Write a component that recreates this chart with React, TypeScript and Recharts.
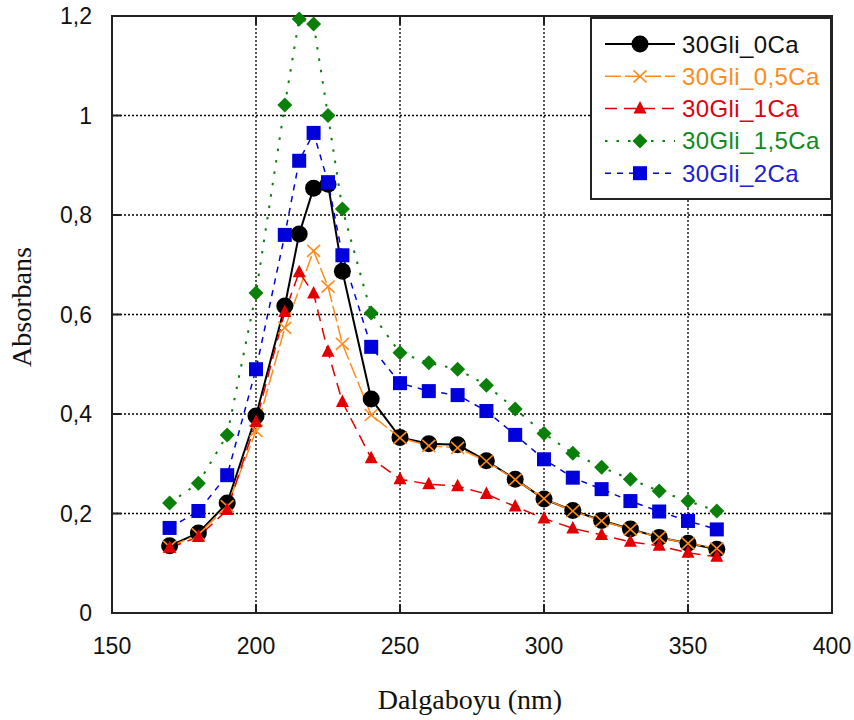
import React from 'react';
import { LineChart, Line, XAxis, YAxis, CartesianGrid, ReferenceArea } from 'recharts';

const wavelengths = [170, 180, 190, 200, 210, 215, 220, 225, 230, 240, 250, 260, 270, 280, 290, 300, 310, 320, 330, 340, 350, 360];
const gli0Ca = [0.135, 0.161, 0.221, 0.396, 0.617, 0.762, 0.854, 0.862, 0.687, 0.43, 0.353, 0.34, 0.338, 0.306, 0.269, 0.229, 0.206, 0.186, 0.169, 0.152, 0.14, 0.128];
const gli05Ca = [0.133, 0.158, 0.215, 0.366, 0.573, null, 0.728, 0.656, 0.541, 0.398, 0.352, 0.336, 0.332, 0.305, 0.268, 0.23, 0.205, 0.185, 0.168, 0.152, 0.14, 0.13];
const gli1Ca = [0.131, 0.153, 0.207, 0.384, 0.605, 0.685, 0.642, 0.525, 0.424, 0.311, 0.269, 0.259, 0.255, 0.239, 0.214, 0.19, 0.17, 0.157, 0.143, 0.135, 0.121, 0.113];
const gli15Ca = [0.221, 0.261, 0.358, 0.643, 1.021, 1.194, 1.184, 1.0, 0.812, 0.603, 0.523, 0.503, 0.49, 0.458, 0.41, 0.361, 0.321, 0.293, 0.269, 0.245, 0.225, 0.205];
const gli2Ca = [0.171, 0.205, 0.277, 0.49, 0.76, 0.909, 0.965, 0.866, 0.719, 0.535, 0.462, 0.446, 0.438, 0.406, 0.358, 0.309, 0.272, 0.249, 0.225, 0.204, 0.185, 0.168];

const seriesNames = ['30Gli_0Ca', '30Gli_0,5Ca', '30Gli_1Ca', '30Gli_1,5Ca', '30Gli_2Ca'];
const xTicks = [150, 200, 250, 300, 350, 400];
const yTicks = [0, 0.2, 0.4, 0.6, 0.8, 1, 1.2];
const xTitle = 'Dalgaboyu (nm)';
const yTitle = 'Absorbans';

const seriesValues = [gli0Ca, gli05Ca, gli1Ca, gli15Ca, gli2Ca];
const data = wavelengths.map((w, i) => {
  const row: any = { w };
  seriesValues.forEach((arr, k) => {
    row['s' + k] = arr[i];
  });
  return row;
});

const styles = [
  { color: '#000000', text: '#111111', dash: undefined, width: 2, marker: 'circle' },
  { color: '#FF8C1A', text: '#FF8C1A', dash: '16 4', width: 1.5, marker: 'x' },
  { color: '#E00000', text: '#E00010', dash: '12 7', width: 1.5, marker: 'triangle' },
  { color: '#0A800A', text: '#108A20', dash: '2.5 9', width: 2, marker: 'diamond' },
  { color: '#0000DD', text: '#2020D0', dash: '6 6', width: 1.5, marker: 'square' },
];

const SANS = '"Liberation Sans", Arial, sans-serif';
const SERIF = '"Liberation Serif", "Times New Roman", serif';

const PLOT_LEFT = 112;
const PLOT_RIGHT = 832;
const PLOT_TOP = 16;
const PLOT_BOTTOM = 613;
const TICK_LEN = 9;

function Marker({ type, cx, cy, color }: { type: string; cx: number; cy: number; color: string }) {
  if (cx == null || cy == null || isNaN(cx) || isNaN(cy)) return <g />;
  switch (type) {
    case 'circle':
      return <circle cx={cx} cy={cy} r={8.5} fill={color} stroke="none" />;
    case 'x':
      return (
        <g stroke={color} strokeWidth={1.6} fill="none">
          <line x1={cx - 6.5} y1={cy - 6} x2={cx + 6.5} y2={cy + 6} />
          <line x1={cx - 6.5} y1={cy + 6} x2={cx + 6.5} y2={cy - 6} />
        </g>
      );
    case 'triangle':
      return <polygon points={`${cx},${cy - 7.5} ${cx + 6.5},${cy + 5} ${cx - 6.5},${cy + 5}`} fill={color} stroke="none" />;
    case 'diamond':
      return <polygon points={`${cx},${cy - 7.5} ${cx + 7.5},${cy} ${cx},${cy + 7.5} ${cx - 7.5},${cy}`} fill={color} stroke="none" />;
    case 'square':
    default:
      return <rect x={cx - 7} y={cy - 7} width={14} height={14} fill={color} stroke="none" />;
  }
}

const fmtY = (v: number) => String(Math.round(v * 10) / 10).replace('.', ',');

const XTick = (props: any) => {
  const { x, y, payload } = props;
  return (
    <g>
      <line x1={x} x2={x} y1={PLOT_BOTTOM} y2={PLOT_BOTTOM - TICK_LEN} stroke="#222" strokeWidth={2} />
      <line x1={x} x2={x} y1={PLOT_TOP} y2={PLOT_TOP + TICK_LEN} stroke="#222" strokeWidth={2} />
      <text x={x} y={y + 17} textAnchor="middle" fontFamily={SANS} fontSize={23} fill="#111">
        {payload.value}
      </text>
    </g>
  );
};

const YTick = (props: any) => {
  const { x, y, payload } = props;
  return (
    <g>
      <line x1={PLOT_LEFT} x2={PLOT_LEFT + TICK_LEN} y1={y} y2={y} stroke="#222" strokeWidth={2} />
      <line x1={PLOT_RIGHT - TICK_LEN} x2={PLOT_RIGHT} y1={y} y2={y} stroke="#222" strokeWidth={2} />
      <text x={x} y={y + 8} textAnchor="end" fontFamily={SANS} fontSize={23} fill="#111">
        {fmtY(payload.value)}
      </text>
    </g>
  );
};

function LegendBox() {
  return (
    <div style={{ position: 'absolute', left: 590, top: 17, width: 242, height: 183 }}>
      <svg width={242} height={183}>
        <rect x={1} y={1} width={240} height={181} fill="#fff" stroke="#222" strokeWidth={2} />
        {seriesNames.map((name, i) => {
          const s = styles[i];
          const cy = 27 + i * 32.3;
          return (
            <g key={name}>
              <line x1={15} x2={85} y1={cy} y2={cy} stroke={s.color} strokeWidth={s.width} strokeDasharray={s.dash} />
              <Marker type={s.marker} cx={50} cy={cy} color={s.color} />
              <text x={92} y={cy + 8.5} fontFamily={SANS} fontSize={24} letterSpacing={0.4} fill={s.text}>
                {name}
              </text>
            </g>
          );
        })}
      </svg>
    </div>
  );
}

export default function App() {
  return (
    <div style={{ position: 'absolute', left: 0, top: 0, width: 854, height: 720, background: '#fff' }}>
      <LineChart width={854} height={720} data={data} margin={{ top: PLOT_TOP, right: 854 - PLOT_RIGHT, left: 0, bottom: 0 }}>
        <CartesianGrid stroke="#000" strokeWidth={1.3} strokeDasharray="2 2" />
        <XAxis
          dataKey="w"
          type="number"
          domain={[150, 400]}
          ticks={xTicks}
          height={720 - PLOT_BOTTOM}
          tickSize={0}
          tickMargin={24}
          tickLine={false}
          axisLine={{ stroke: '#222', strokeWidth: 2 }}
          tick={XTick}
          interval={0}
          label={() => (
            <text x={(PLOT_LEFT + PLOT_RIGHT) / 2 - 2} y={709} textAnchor="middle" fontFamily={SERIF} fontSize={28} fill="#111">
              {xTitle}
            </text>
          )}
        />
        <YAxis
          type="number"
          domain={[0, 1.2]}
          ticks={yTicks}
          width={PLOT_LEFT}
          tickSize={0}
          tickMargin={20}
          tickLine={false}
          axisLine={{ stroke: '#222', strokeWidth: 2 }}
          tick={YTick}
          interval={0}
          label={() => (
            <text x={31} y={307} textAnchor="middle" fontFamily={SERIF} fontSize={28} fill="#111" transform="rotate(-90 31 307)">
              {yTitle}
            </text>
          )}
        />
        <ReferenceArea x1={150} x2={400} y1={0} y2={1.2} fill="none" fillOpacity={0} stroke="#222" strokeWidth={2} />
        {styles.map((s, k) => (
          <Line
            key={'s' + k}
            dataKey={'s' + k}
            name={seriesNames[k]}
            type="linear"
            stroke={s.color}
            strokeWidth={s.width}
            strokeDasharray={s.dash}
            connectNulls
            isAnimationActive={false}
            dot={(p: any) => <Marker key={'d' + k + '-' + p.index} type={s.marker} cx={p.cx} cy={p.cy} color={s.color} />}
            activeDot={false}
          />
        ))}
      </LineChart>
      <LegendBox />
    </div>
  );
}
